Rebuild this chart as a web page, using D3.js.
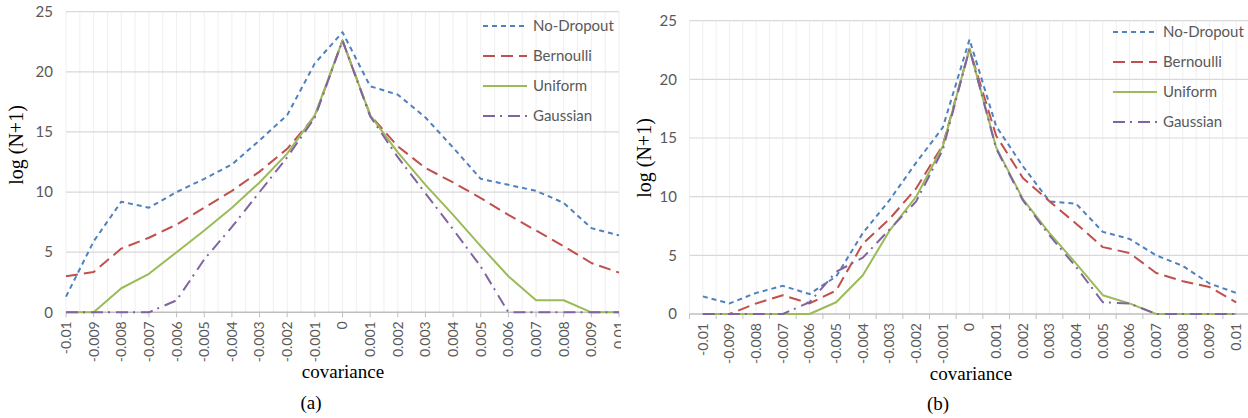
<!DOCTYPE html>
<html>
<head>
<meta charset="utf-8">
<script src="https://cdn.jsdelivr.net/npm/d3@7/dist/d3.min.js"></script>
<style>
  html, body { margin: 0; padding: 0; background: #fff; }
  svg { display: block; }
</style>
</head>
<body>
<svg id="chart" width="1248" height="418"></svg>
<script>
const categories = ["-0.01","-0.009","-0.008","-0.007","-0.006","-0.005","-0.004","-0.003","-0.002","-0.001","0","0.001","0.002","0.003","0.004","0.005","0.006","0.007","0.008","0.009","0.01"];
const seriesNames = ["No-Dropout", "Bernoulli", "Uniform", "Gaussian"];
const yTicks = [0, 5, 10, 15, 20, 25];

// Chart (a)
const noDropoutA = [1.3, 5.9, 9.2, 8.7, 10.0, 11.1, 12.3, 14.3, 16.4, 20.7, 23.3, 18.8, 18.1, 16.2, 13.7, 11.1, 10.6, 10.1, 9.1, 7.0, 6.4];
const bernoulliA = [3.0, 3.35, 5.3, 6.2, 7.3, 8.7, 10.1, 11.7, 13.6, 16.3, 22.6, 16.4, 13.8, 12.0, 10.8, 9.5, 8.1, 6.8, 5.5, 4.1, 3.3];
const uniformA   = [0, 0, 2.0, 3.2, 5.0, 6.8, 8.7, 10.8, 13.2, 16.4, 22.6, 16.4, 13.3, 10.6, 8.1, 5.5, 3.0, 1.0, 1.0, 0, 0];
const gaussianA  = [0, 0, 0, 0, 1.0, 4.4, 7.1, 10.0, 12.9, 16.2, 22.6, 16.3, 12.9, 9.9, 6.9, 3.8, 0, 0, 0, 0, 0];

// Chart (b)
const noDropoutB = [1.5, 0.9, 1.8, 2.4, 1.7, 3.2, 6.9, 9.7, 12.9, 15.9, 23.4, 16.0, 12.6, 9.6, 9.4, 7.0, 6.4, 5.0, 4.1, 2.6, 1.8];
const bernoulliB = [0, 0, 0.9, 1.6, 0.9, 2.0, 6.0, 8.1, 10.7, 14.4, 22.6, 15.2, 11.6, 9.6, 7.7, 5.7, 5.2, 3.5, 2.8, 2.3, 1.0];
const uniformB   = [0, 0, 0, 0, 0, 1.0, 3.3, 7.1, 10.0, 14.3, 22.6, 14.2, 9.8, 6.9, 4.3, 1.6, 0.9, 0, 0, 0, 0];
const gaussianB  = [0, 0, 0, 0, 1.0, 3.6, 4.8, 7.2, 9.6, 14.0, 22.6, 14.1, 9.7, 6.7, 4.0, 1.0, 0.9, 0, 0, 0, 0];

const styles = [
  { color: "#4F81BD", dash: "5,4" },
  { color: "#C0504D", dash: "12,6" },
  { color: "#9BBB59", dash: null },
  { color: "#8064A2", dash: "12,5,2,6" }
];

const svg = d3.select("#chart");
const labelFont = "Lato, 'Open Sans', sans-serif";
const serifFont = "'Liberation Serif', 'Times New Roman', serif";

function drawChart(cfg) {
  const g = svg.append("g");
  if (cfg.clip) {
    svg.append("defs").append("clipPath").attr("id", cfg.clip.id)
      .append("rect").attr("x", 0).attr("y", 0).attr("width", cfg.clip.w).attr("height", 418);
    g.attr("clip-path", `url(#${cfg.clip.id})`);
  }
  const y = d3.scaleLinear().domain([0, 25]).range([cfg.y0, cfg.y25]);
  let x, gridPos = [], tickPos = [];
  if (cfg.band) {
    x = d3.scaleBand().domain(categories).range([cfg.left, cfg.right]).padding(0);
    const bw = x.bandwidth();
    const cx = c => x(c) + bw / 2;
    categories.forEach(c => { gridPos.push(x(c)); gridPos.push(cx(c)); tickPos.push(x(c)); });
    gridPos.push(cfg.right); tickPos.push(cfg.right);
    x.center = cx;
  } else {
    x = d3.scalePoint().domain(categories).range([cfg.left, cfg.right]);
    const st = x.step();
    categories.forEach((c, i) => { gridPos.push(x(c)); tickPos.push(x(c)); if (i < categories.length - 1) gridPos.push(x(c) + st / 2); });
    x.center = c => x(c);
  }
  const plotRight = cfg.right;

  // vertical gridlines
  g.append("g").selectAll("line").data(gridPos).join("line")
    .attr("x1", d => d).attr("x2", d => d)
    .attr("y1", y(25)).attr("y2", y(0))
    .attr("stroke", "#efefef").attr("stroke-width", 1);
  // horizontal gridlines
  g.append("g").selectAll("line").data(yTicks.filter(t => t > 0)).join("line")
    .attr("x1", cfg.left).attr("x2", plotRight)
    .attr("y1", d => y(d)).attr("y2", d => y(d))
    .attr("stroke", "#d9d9d9").attr("stroke-width", 1.2);

  // y axis labels
  const yAxis = d3.axisLeft(y).tickValues(yTicks).tickSize(0).tickPadding(cfg.left - cfg.yLabelX);
  const ya = g.append("g").attr("transform", `translate(${cfg.left},0)`).call(yAxis);
  ya.select(".domain").remove();
  ya.selectAll("text").attr("font-family", labelFont).attr("font-size", 15).attr("fill", "#595959");

  // x axis line
  g.append("line").attr("x1", cfg.left).attr("x2", plotRight)
    .attr("y1", y(0)).attr("y2", y(0)).attr("stroke", "#bfbfbf").attr("stroke-width", 1.5);
  g.append("g").selectAll("line").data(tickPos).join("line")
    .attr("x1", d => d).attr("x2", d => d).attr("y1", y(0)).attr("y2", y(0) + 5)
    .attr("stroke", "#bfbfbf").attr("stroke-width", 1);

  // x tick labels
  g.append("g").selectAll("text").data(categories).join("text")
    .attr("transform", c => `translate(${x.center(c)},${y(0) + 9}) rotate(-90)`)
    .attr("text-anchor", "end").attr("dy", "0.35em")
    .attr("font-family", labelFont).attr("font-size", 14).attr("fill", "#595959")
    .text(c => c);

  // lines
  const line = d3.line().x((v, i) => x.center(categories[i])).y(v => y(v));
  cfg.series.forEach((vals, k) => {
    g.append("path").datum(vals).attr("d", line)
      .attr("fill", "none").attr("stroke", styles[k].color).attr("stroke-width", 2)
      .attr("stroke-dasharray", styles[k].dash).attr("stroke-linejoin", "round");
  });

  // legend
  const lg = g.append("g");
  seriesNames.forEach((n, k) => {
    const yy = cfg.legend.y + k * cfg.legend.dy;
    lg.append("line").attr("x1", cfg.legend.x).attr("x2", cfg.legend.x + 44)
      .attr("y1", yy).attr("y2", yy)
      .attr("stroke", styles[k].color).attr("stroke-width", 2).attr("stroke-dasharray", styles[k].dash);
    lg.append("text").attr("x", cfg.legend.x + 50).attr("y", yy).attr("dy", "0.35em")
      .attr("font-family", labelFont).attr("font-size", 15).attr("fill", "#595959").text(n);
  });

  // titles
  g.append("text").attr("transform", `translate(${cfg.yTitle.x},${cfg.yTitle.y}) rotate(-90)`)
    .attr("text-anchor", "middle").attr("font-family", serifFont).attr("font-size", 20).attr("fill", "#000")
    .text("log (N+1)");
  g.append("text").attr("x", cfg.xTitle.x).attr("y", cfg.xTitle.y).attr("text-anchor", "middle")
    .attr("font-family", serifFont).attr("font-size", 19).attr("fill", "#000").text("covariance");
  g.append("text").attr("x", cfg.sub.x).attr("y", cfg.sub.y).attr("text-anchor", "middle")
    .attr("font-family", serifFont).attr("font-size", 19).attr("fill", "#000").text(cfg.sub.text);
}

drawChart({
  band: false, left: 66, right: 619, y0: 312.3, y25: 11.7, yLabelX: 53,
  series: [noDropoutA, bernoulliA, uniformA, gaussianA],
  legend: { x: 483, y: 26, dy: 30 },
  yTitle: { x: 23, y: 145 }, xTitle: { x: 343, y: 378 }, sub: { x: 311, y: 409, text: "(a)" },
  clip: { id: "clipA", w: 621 }
});

drawChart({
  band: true, left: 689.5, right: 1249.5, y0: 314, y25: 20.7, yLabelX: 677,
  series: [noDropoutB, bernoulliB, uniformB, gaussianB],
  legend: { x: 1113, y: 32, dy: 30 },
  yTitle: { x: 651, y: 158 }, xTitle: { x: 971, y: 380 }, sub: { x: 938, y: 410, text: "(b)" }
});
</script>
</body>
</html>
